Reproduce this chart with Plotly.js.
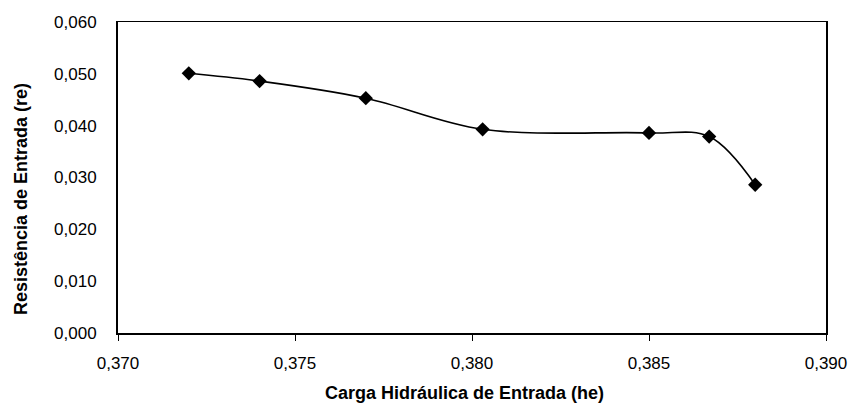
<!DOCTYPE html>
<html>
<head>
<meta charset="utf-8">
<script src="https://cdn.plot.ly/plotly-3.0.1.min.js"></script>
<style>html,body{margin:0;padding:0;background:#fff;}#chart{width:851px;height:405px;}</style>
</head>
<body>
<div id="chart"></div>
<script>
// Carga Hidráulica de Entrada (he)
const he = [0.3720, 0.3740, 0.3770, 0.3803, 0.3850, 0.3867, 0.3880];
// Resistência de Entrada (re)
const re = [0.0501, 0.0486, 0.0453, 0.0393, 0.0386, 0.0379, 0.0286];
const xTicks = [0.370, 0.375, 0.380, 0.385, 0.390];
const yTicks = [0.000, 0.010, 0.020, 0.030, 0.040, 0.050, 0.060];
const xTitle = 'Carga Hidráulica de Entrada (he)';
const yTitle = 'Resistência de Entrada (re)';

const FONT = '"Liberation Sans", Arial, sans-serif';

const trace = {
  x: he, y: re,
  type: 'scatter', mode: 'lines+markers',
  line: {color: '#000', width: 1.6, shape: 'spline', smoothing: 1},
  marker: {symbol: 'diamond', size: 11, color: '#000'},
  hoverinfo: 'none'
};

const layout = {
  width: 851, height: 405,
  margin: {l: 118, r: 25, t: 22, b: 72},
  paper_bgcolor: '#fff', plot_bgcolor: '#fff',
  separators: ',.',
  showlegend: false,
  font: {family: FONT, size: 17, color: '#000'},
  xaxis: {
    range: [0.370, 0.390],
    tickvals: xTicks, tickformat: '.3f',
    ticks: 'outside', ticklen: 6, tickwidth: 1, tickcolor: '#000',
    ticklabelstandoff: 8,
    showgrid: false, zeroline: false,
    showline: true, linecolor: '#000', linewidth: 1.5, mirror: true,
    tickfont: {family: FONT, size: 17, color: '#000'}
  },
  yaxis: {
    range: [0, 0.060],
    tickvals: yTicks, tickformat: '.3f',
    ticks: '', ticklabelstandoff: 16,
    showgrid: false, zeroline: false,
    showline: true, linecolor: '#000', linewidth: 2, mirror: true,
    tickfont: {family: FONT, size: 17, color: '#000'}
  },
  annotations: [
    {text: '<b>' + xTitle + '</b>', xref: 'paper', yref: 'paper', x: 0.49, y: -0.193,
     xanchor: 'center', yanchor: 'middle', showarrow: false,
     font: {family: FONT, size: 18, color: '#000'}},
    {text: '<b>' + yTitle + '</b>', xref: 'paper', yref: 'paper', x: -0.136, y: 0.43,
     xanchor: 'center', yanchor: 'middle', textangle: -90, showarrow: false,
     font: {family: FONT, size: 18, color: '#000'}}
  ]
};

Plotly.newPlot('chart', [trace], layout, {staticPlot: true, displayModeBar: false});
</script>
</body>
</html>
